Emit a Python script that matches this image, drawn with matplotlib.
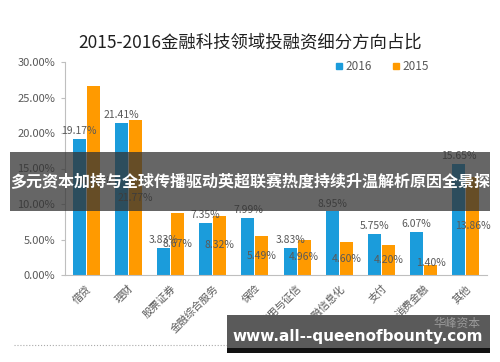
import matplotlib
matplotlib.use("Agg")
import matplotlib.pyplot as plt
from matplotlib.lines import Line2D
from matplotlib.patches import Rectangle
import numpy as np

plt.rcParams['font.family'] = ['Noto Sans CJK SC', 'DejaVu Sans']

categories = ['借贷', '理财', '股票证券', '金融综合服务', '保险', '信用与征信',
              '金融信息化', '支付', '消费金融', '其他']
values_2016 = [19.17, 21.41, 3.83, 7.35, 7.99, 3.83, 8.95, 5.75, 6.07, 15.65]
values_2015 = [26.60, 21.77, 8.67, 8.32, 5.49, 4.96, 4.60, 4.20, 1.40, 13.86]
yticks = [0, 5, 10, 15, 20, 25, 30]
title = '2015-2016金融科技领域投融资细分方向占比'
banner_text = '多元资本加持与全球传播驱动英超联赛热度持续升温解析原因全景探'
url_text = 'www.all--queenofbounty.com'

W, H = 500, 362
fig = plt.figure(figsize=(W / 100, H / 100), dpi=100)
fig.patch.set_facecolor('white')

ax = fig.add_axes([65 / W, (H - 275) / H, 422 / W, 213 / H])
x = np.arange(len(categories))
bw = 0.31
off = 0.165
c16 = '#1B9CDB'
c15 = '#FF9A00'
ax.bar(x - off, values_2016, bw, color=c16, zorder=2)
ax.bar(x + off, values_2015, bw, color=c15, zorder=2)

lab_col = '#595959'
for xi, v in zip(x, values_2016):
    ax.annotate(f'{v:.2f}%', (xi - off, v), xytext=(0, 2), textcoords='offset points',
                ha='center', va='bottom', fontsize=7.5, color=lab_col, zorder=3)
for xi, v in zip(x, values_2015):
    ax.text(xi + off, v / 2 if v > 3 else v + 0.3, f'{v:.2f}%', ha='center', va='center',
            fontsize=7.5, color=lab_col, zorder=3)

ax.set_xlim(-0.5, len(categories) - 0.5)
ax.set_ylim(0, 30)
ax.set_yticks(yticks)
ax.set_yticklabels([f'{t:.2f}%' for t in yticks], fontsize=8, color=lab_col)
ax.set_xticks(x)
ax.set_xticklabels(categories, rotation=45, ha='right', rotation_mode='anchor',
                   fontsize=7.5, color=lab_col)
ax.tick_params(axis='x', length=0, pad=6)
ax.tick_params(axis='y', length=3, color='#BFBFBF', pad=4)
for s in ['top', 'right']:
    ax.spines[s].set_visible(False)
ax.spines['left'].set_color('#BFBFBF')
ax.spines['bottom'].set_color('#BFBFBF')
ax.set_facecolor('none')

fig.text(250 / W, 1 - 42 / H, title, ha='center', va='center', fontsize=12.5, color='#1F1F1F')

handles = [Line2D([], [], marker='s', linestyle='none', color=c16, markersize=4.5),
           Line2D([], [], marker='s', linestyle='none', color=c15, markersize=4.5)]
fig.legend(handles, ['2016', '2015'], loc='center left', bbox_to_anchor=(325 / W, 1 - 67 / H),
           ncol=2, frameon=False, fontsize=8.5, handlelength=0.6, handletextpad=0.2,
           columnspacing=1.8, labelcolor=lab_col)

# dotted separator line
fig.add_artist(Line2D([14 / W, 228 / W], [1 - 345 / H, 1 - 345 / H], transform=fig.transFigure,
                      color='#AAAAAA', linestyle=':', linewidth=0.8))

# overlay banner
fig.add_artist(Rectangle((10 / W, 1 - 211 / H), 480 / W, 59 / H, transform=fig.transFigure,
                         facecolor='#333333', alpha=0.75, edgecolor='none', zorder=5))
fig.text(250 / W, 1 - 182 / H, banner_text, ha='center', va='center', fontsize=11.5,
         color='white', fontweight='bold', zorder=6)

# bottom url banner
fig.add_artist(Rectangle((227 / W, 1 - 348 / H), 263 / W, 33 / H, transform=fig.transFigure,
                         facecolor='#5A5A5A', edgecolor='none', zorder=5))
fig.add_artist(Rectangle((227 / W, 1 - 353 / H), 263 / W, 5 / H, transform=fig.transFigure,
                         facecolor='#111111', edgecolor='none', zorder=5))
fig.text(457 / W, 1 - 323 / H, '华峰资本', ha='center', va='center', fontsize=8.5,
         color='#9A9A9A', zorder=6)
fig.text(358 / W, 1 - 336 / H, url_text, ha='center', va='center', fontsize=11,
         color='white', fontweight='bold', family='DejaVu Sans', zorder=6)

fig.savefig('out.png', dpi=100)
